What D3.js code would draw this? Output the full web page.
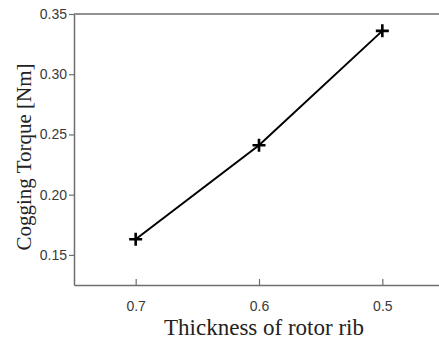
<!DOCTYPE html>
<html>
<head>
<meta charset="utf-8">
<script src="https://cdn.jsdelivr.net/npm/d3@7"></script>
<style>
  body { margin: 0; background: #fff; }
  svg { display: block; }
</style>
</head>
<body>
<div id="chart"></div>
<script>
// values
const thickness = [0.7, 0.6, 0.5];
const cogging = [0.163, 0.241, 0.336];
const xTicks = [0.7, 0.6, 0.5];
const yTicks = [0.15, 0.20, 0.25, 0.30, 0.35];

const width = 439, height = 341;
const margin = { top: 14, right: -5, bottom: 56, left: 74 };

const svg = d3.select('#chart')
  .append('svg')
  .attr('width', width)
  .attr('height', height);

const x = d3.scaleLinear()
  .domain([0.75, 0.45])
  .range([margin.left, width - margin.right]);

const y = d3.scaleLinear()
  .domain([0.125, 0.35])
  .range([height - margin.bottom, margin.top]);

const axisColor = '#6e6e6e';

// x axis, ticks pointing inward
const gx = svg.append('g')
  .attr('transform', `translate(0,${height - margin.bottom})`)
  .call(d3.axisBottom(x).tickValues(xTicks).tickFormat(d3.format('.1f')).tickSizeInner(-6).tickSizeOuter(0).tickPadding(16));

// y axis, ticks pointing outward
const gy = svg.append('g')
  .attr('transform', `translate(${margin.left},0)`)
  .call(d3.axisLeft(y).tickValues(yTicks).tickFormat(d3.format('.2f')).tickSizeInner(5).tickSizeOuter(0).tickPadding(2));

[gx, gy].forEach(g => {
  g.select('.domain').attr('stroke', axisColor).attr('stroke-width', 1.5);
  g.selectAll('.tick line').attr('stroke', axisColor).attr('stroke-width', 1.2);
  g.selectAll('.tick text')
    .attr('fill', '#3a3a3a')
    .style('font-family', '"Liberation Sans", Arial, sans-serif')
    .style('font-size', '14px');
});

// top border
svg.append('line')
  .attr('x1', margin.left).attr('x2', width)
  .attr('y1', margin.top).attr('y2', margin.top)
  .attr('stroke', axisColor)
  .attr('stroke-width', 1.5);

const points = thickness.map((t, i) => ({ t, v: cogging[i] }));

svg.append('path')
  .datum(points)
  .attr('d', d3.line().x(d => x(d.t)).y(d => y(d.v)))
  .attr('fill', 'none')
  .attr('stroke', '#000')
  .attr('stroke-width', 2);

// thin plus marker (stroked, like matlab '+')
const plus = {
  draw(ctx, size) {
    const r = Math.sqrt(size) / 2;
    ctx.moveTo(-r, 0); ctx.lineTo(r, 0);
    ctx.moveTo(0, -r); ctx.lineTo(0, r);
  }
};

svg.append('g')
  .selectAll('path')
  .data(points)
  .join('path')
    .attr('d', d3.symbol(plus, 169))
    .attr('transform', d => `translate(${x(d.t)},${y(d.v)})`)
    .attr('fill', 'none')
    .attr('stroke', '#000')
    .attr('stroke-width', 2.6);

svg.append('text')
  .attr('x', 264)
  .attr('y', 335)
  .attr('text-anchor', 'middle')
  .attr('fill', '#222')
  .style('font-family', '"Liberation Serif", "Times New Roman", serif')
  .style('font-size', '23px')
  .text('Thickness of rotor rib');

svg.append('text')
  .attr('transform', 'translate(31,157) rotate(-90)')
  .attr('text-anchor', 'middle')
  .attr('fill', '#222')
  .style('font-family', '"Liberation Serif", "Times New Roman", serif')
  .style('font-size', '21px')
  .text('Cogging Torque [Nm]');
</script>
</body>
</html>
